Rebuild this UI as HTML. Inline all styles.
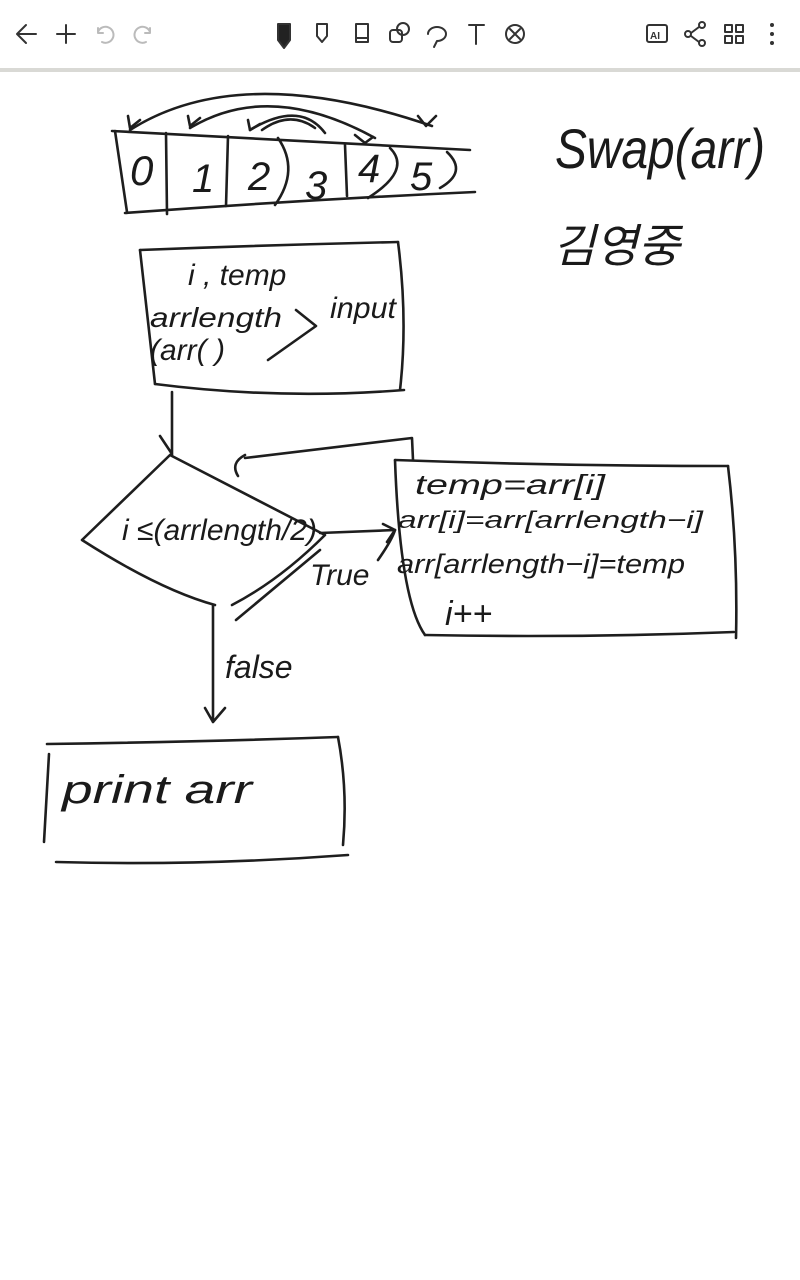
<!DOCTYPE html>
<html><head><meta charset="utf-8"><style>
html,body{margin:0;padding:0;background:#fff;width:800px;height:1280px;overflow:hidden}
svg{display:block}
text{font-family:"Liberation Sans","Noto Sans CJK KR",sans-serif;fill:#1a1a1a;font-style:italic}
</style></head><body>
<svg width="800" height="1280" viewBox="0 0 800 1280">
<rect x="0" y="0" width="800" height="68" fill="#fff"/>
<rect x="0" y="68" width="800" height="4" fill="#d9d9d5"/>
<g stroke="#333" stroke-width="2" fill="none" stroke-linecap="round" stroke-linejoin="round">
<path d="M36 34H18M26 25l-9 9 9 9"/>
<path d="M66 25v18M57 34h18"/>
<g stroke="#bbb"><path d="M98 32a8 8 0 1 1 4 10M98 28v5h5"/><path d="M150 32a8 8 0 1 0-4 10M150 28v5h-5"/></g>
<path d="M278 24h12v16l-6 8-6-8z" fill="#222"/>
<path d="M317 24h10v12l-5 6-5-6z"/>
<path d="M356 24h12v18h-12zM356 38h12"/>
<rect x="390" y="30" width="12" height="12" rx="3"/><circle cx="403" cy="29" r="6"/>
<path d="M428 34a9 7 0 1 1 9 7l-3 6"/>
<path d="M469 25h15M476 25v19"/>
<circle cx="515" cy="34" r="9"/><path d="M510 29l10 10M520 29l-10 10"/>
<rect x="647" y="25" width="20" height="17" rx="2"/>
<circle cx="702" cy="25" r="3"/><circle cx="702" cy="43" r="3"/><circle cx="688" cy="34" r="3"/><path d="M691 33l8-6M691 36l8 6"/>
<rect x="725" y="25" width="7" height="7"/><rect x="736" y="25" width="7" height="7"/><rect x="725" y="36" width="7" height="7"/><rect x="736" y="36" width="7" height="7"/>
</g>
<text x="650" y="39" font-size="10" font-weight="bold" style="fill:#333;font-style:normal">AI</text>
<circle cx="772" cy="25" r="2" fill="#333"/><circle cx="772" cy="34" r="2" fill="#333"/><circle cx="772" cy="43" r="2" fill="#333"/>

<g stroke="#1e1e1e" stroke-width="2.6" fill="none" stroke-linecap="round" stroke-linejoin="round">
<path d="M112 131L470 150"/>
<path d="M125 213Q300 200 475 192"/>
<path d="M115 131L127 212"/>
<path d="M166 133L167 214"/><path d="M228 136L226 206"/>
<path d="M278 138Q300 170 275 205"/><path d="M345 145L347 196"/><path d="M390 148Q412 170 368 198"/>
<path d="M447 152Q468 172 440 188"/>
<path d="M130 130Q240 60 432 126"/><path d="M130 128l-2-12M130 128l10-8"/>
<path d="M190 128Q270 80 375 138"/><path d="M190 126l-2-10M190 126l10-8"/>
<path d="M250 130Q300 100 325 133"/><path d="M250 130l-2-10M250 130l10-6"/>
<path d="M262 130Q290 110 315 128"/>
<path d="M355 135l10 8 8-6M418 116l8 10 10-10"/>
<path d="M140 250Q270 245 398 242"/><path d="M140 250L155 384"/><path d="M398 242Q408 320 400 390"/><path d="M155 384Q280 400 404 390"/>
<path d="M296 310L316 326L268 360"/>
<path d="M172 392L172 455M160 436l12 18"/>
<path d="M170 455L82 540M170 455L325 535M82 540Q160 590 215 605M325 535Q280 580 232 605"/>
<path d="M236 620L320 550"/>
<path d="M320 533L395 530M383 524l12 6-8 12"/>
<path d="M378 560Q392 540 395 530"/>
<path d="M412 438L413 460M412 438L245 458M245 455Q230 463 238 476"/>
<path d="M395 460Q560 466 728 466"/><path d="M395 460Q400 600 425 635"/><path d="M728 466Q738 550 736 638"/><path d="M425 635Q580 638 734 632"/>
<path d="M213 605L213 722M205 708l8 14 12-14"/>
<path d="M47 744Q200 742 338 737"/><path d="M49 754L44 842"/><path d="M338 737Q348 790 343 845"/><path d="M56 862Q200 866 348 855"/>
</g>
<text x="130" y="185" font-size="42">0</text>
<text x="192" y="192" font-size="40">1</text>
<text x="248" y="190" font-size="40">2</text>
<text x="305" y="199" font-size="40">3</text>
<text x="358" y="182" font-size="40">4</text>
<text x="410" y="190" font-size="40">5</text>
<text x="555" y="168" font-size="56" textLength="210" lengthAdjust="spacingAndGlyphs">Swap(arr)</text>
<text x="553" y="262" font-size="46">김영중</text>
<text x="188" y="285" font-size="30">i , temp</text>
<text x="150" y="327" font-size="28" textLength="132" lengthAdjust="spacingAndGlyphs">arrlength</text>
<text x="150" y="360" font-size="30">(arr( )</text>
<text x="330" y="318" font-size="30" textLength="66" lengthAdjust="spacingAndGlyphs">input</text>
<text x="122" y="540" font-size="30" textLength="195" lengthAdjust="spacingAndGlyphs">i ≤(arrlength/2)</text>
<text x="310" y="585" font-size="30">True</text>
<text x="415" y="494" font-size="28" textLength="190" lengthAdjust="spacingAndGlyphs">temp=arr[i]</text>
<text x="398" y="528" font-size="24" textLength="305" lengthAdjust="spacingAndGlyphs">arr[i]=arr[arrlength−i]</text>
<text x="397" y="573" font-size="27" textLength="288" lengthAdjust="spacingAndGlyphs">arr[arrlength−i]=temp</text>
<text x="445" y="625" font-size="34">i++</text>
<text x="225" y="678" font-size="32">false</text>
<text x="62" y="803" font-size="40" textLength="190" lengthAdjust="spacingAndGlyphs">print  arr</text>
</svg>
</body></html>
